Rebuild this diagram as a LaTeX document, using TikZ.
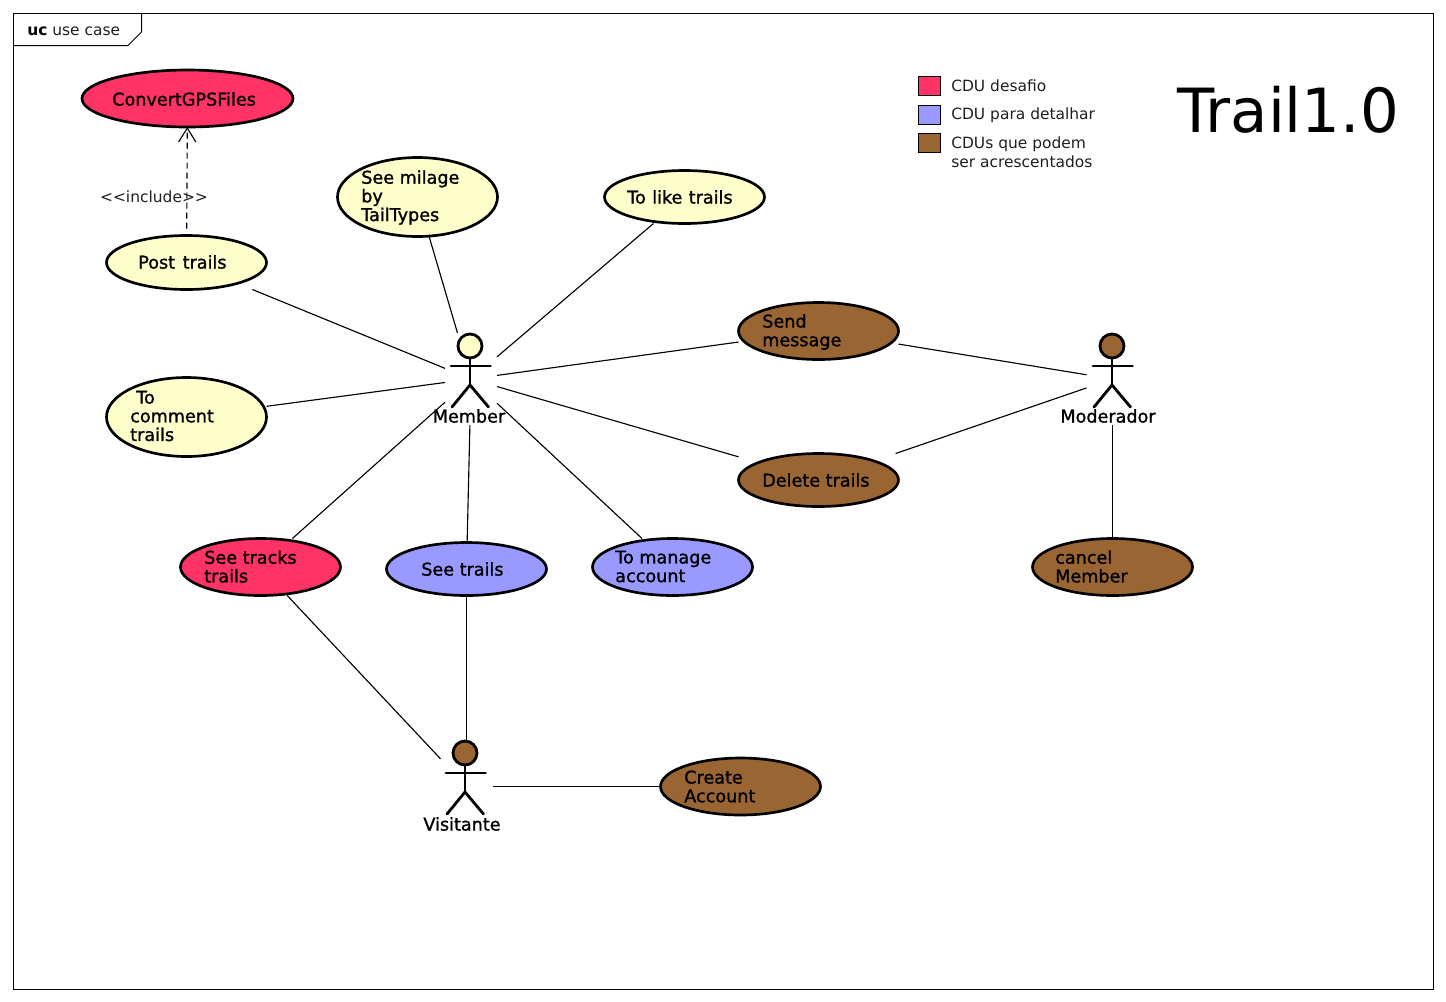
\documentclass[tikz,border=0pt]{standalone}
\usepackage{fontspec}
\setmainfont{DejaVu Sans}
\newfontfamily\medfont[FakeBold=1.2]{DejaVu Sans}
\usetikzlibrary{shapes.geometric,arrows.meta}
\definecolor{cduRed}{HTML}{FF3366}
\definecolor{cduYellow}{HTML}{FFFFCC}
\definecolor{cduBlue}{HTML}{9999FF}
\definecolor{cduBrown}{HTML}{996633}
\definecolor{softInk}{gray}{0.12}
\tikzset{
  ucshape/.style={ellipse,draw=black,line width=2pt,inner sep=0pt,outer sep=0pt},
  ucclip/.style={rectangle,inner sep=0pt,outer sep=0pt},
  uctext/.style={anchor=west,align=left,inner sep=0pt,font=\medfont\fontsize{13.2}{14}\selectfont},
  actorname/.style={inner sep=0pt,font=\medfont\fontsize{13.2}{14}\selectfont},
  actorbox/.style={rectangle,inner sep=0pt,outer sep=0pt,minimum width=39pt,minimum height=69pt},
  stick/.style={line width=2.1pt,line cap=round,line join=round},
  conn/.style={line width=0.85pt},
  incl/.style={line width=0.85pt,dash pattern=on 4.5pt off 3pt,-{Straight Barb[length=10.5pt,width=13pt,line width=0.85pt]}},
  legendtext/.style={anchor=west,inner sep=0pt,text=softInk,font=\fontsize{11.6}{14}\selectfont},
  swatch/.style={draw=black,line width=0.7pt},
}
% id, cx, cy, w, h, colour, text x, text y, text
\newcommand{\ucase}[9]{%
  \node[ucclip,minimum width={#4*.75pt},minimum height={#5*.75pt}] (#1) at (#2,#3) {};
  \node[ucshape,fill=#6,minimum width={#4*.75pt},minimum height={#5*.75pt}] (#1-e) at (#2,#3) {};
  \node[uctext] (#1-t) at (#7,#8) {#9};
}
% id, head x, head y, box cx, box cy, colour, name x, name y, name
\newcommand{\actorfig}[9]{%
  \node[actorbox] (#1) at (#4,#5) {};
  \node[circle,draw=black,line width=2.1pt,fill=#6,minimum size=18pt,inner sep=0pt] (#1-h) at (#2,#3) {};
  \coordinate (#1-n) at (#2,#3+20);
  \coordinate (#1-w) at (#2-19,#3+20);
  \coordinate (#1-r) at (#2+20.5,#3+20);
  \coordinate (#1-c) at (#2,#3+39);
  \coordinate (#1-l) at (#2-18,#3+61);
  \coordinate (#1-k) at (#2+18.5,#3+61);
  \draw[stick] (#1-h) -- (#1-c);
  \draw[stick] (#1-w) -- (#1-r);
  \draw[stick] (#1-l) -- (#1-c) -- (#1-k);
  \node[actorname] (#1-t) at (#7,#8) {#9};
}
\begin{document}
\begin{tikzpicture}[x=.75pt,y=-.75pt]
\useasboundingbox (0,0) rectangle (1446,1001);
\fill[white] (0,0) rectangle (1446,1001);
% frame
\coordinate (fa) at (13.5,13.5); \coordinate (fb) at (1433.5,13.5);
\coordinate (fc) at (1433.5,989.5); \coordinate (fd) at (13.5,989.5);
\draw[line width=0.75pt] (fa) -- (fb) -- (fc) -- (fd) -- cycle;
\coordinate (ta) at (141.5,13.5); \coordinate (tb) at (141.5,32);
\coordinate (tc) at (128,45.5); \coordinate (td) at (13.5,45.5);
\draw[line width=0.75pt] (ta) -- (tb) -- (tc) -- (td);
\node[anchor=west,inner sep=0pt,font=\fontsize{11.6}{14}\selectfont] (frametitle) at (27,31.5) {\textbf{uc} {\color{softInk}use case}};
% use cases
\ucase{convert}{187.5}{98.5}{211}{57}{cduRed}{112}{99}{ConvertGPSFiles}
\ucase{post}{186.5}{262.5}{160}{54}{cduYellow}{138}{262}{Post\hspace{1.5pt} trails}
\ucase{milage}{417.5}{197}{160}{79}{cduYellow}{361}{197.5}{See milage\\by\\TailTypes}
\ucase{like}{684.5}{197}{160}{53}{cduYellow}{627}{197}{To\hspace{.6pt} like\hspace{.6pt} trails}
\ucase{send}{818.5}{331}{160}{57}{cduBrown}{762}{332}{Send\\message}
\ucase{comment}{186.5}{417}{160}{79}{cduYellow}{130}{416}{\hspace*{4.5pt}To\\comment\\trails}
\ucase{delete}{818.5}{480}{160}{53}{cduBrown}{762}{480}{Delete trails}
\ucase{tracks}{260.5}{567}{160}{57}{cduRed}{204}{566.5}{See tracks\\trails}
\ucase{seetrails}{466.5}{569}{160}{53}{cduBlue}{421}{569}{See trails}
\ucase{manage}{672.5}{567}{160}{57}{cduBlue}{615}{566.5}{To manage\\account}
\ucase{cancel}{1112.5}{567}{160}{57}{cduBrown}{1055}{566.5}{cancel\\Member}
\ucase{create}{740.5}{786.5}{160}{57}{cduBrown}{684}{786.5}{Create\\Account}
% actors
\actorfig{member}{470}{346}{471}{379}{cduYellow}{469}{416}{Member}
\actorfig{moderador}{1112}{346}{1112.5}{379}{cduBrown}{1108}{416}{Moderador}
\actorfig{visitante}{465}{753}{466.5}{786.5}{cduBrown}{462}{824}{Visitante}
% connectors
\draw[incl,shorten <=5.25pt] (post) -- (convert);
\node[inner sep=0pt,text=softInk,font=\fontsize{11.6}{14}\selectfont] (incl-t) at (154,196.5) {<{}<include>{}>};
\foreach \u in {post,milage,like,send,comment,delete,tracks,seetrails,manage}
  \draw[conn] (\u) -- (member);
\draw[conn] (send) -- (moderador);
\draw[conn] (delete) -- (moderador);
\draw[conn] (cancel) -- (moderador);
\draw[conn] (tracks) -- (visitante);
\draw[conn] (seetrails) -- (visitante);
\draw[conn] (create) -- (visitante);
% legend
\node[swatch,fill=cduRed,minimum width=17pt,minimum height=14.8pt,inner sep=0pt] (l1) at (929.5,86) {};
\node[swatch,fill=cduBlue,minimum width=17pt,minimum height=14.8pt,inner sep=0pt] (l2) at (929.5,115) {};
\node[swatch,fill=cduBrown,minimum width=17pt,minimum height=14.8pt,inner sep=0pt] (l3) at (929.5,143) {};
\node[legendtext] (l1t) at (951,85.5) {CDU desafio};
\node[legendtext] (l2t) at (951,115) {CDU para detalhar};
\node[legendtext,align=left] (l3t) at (951,152) {CDUs que podem\\ser acrescentados};
% title
\node[anchor=west,inner sep=0pt,font=\fontsize{45.7}{50}\selectfont] (title) at (1177,110) {Trail1.0};
\end{tikzpicture}
\end{document}
